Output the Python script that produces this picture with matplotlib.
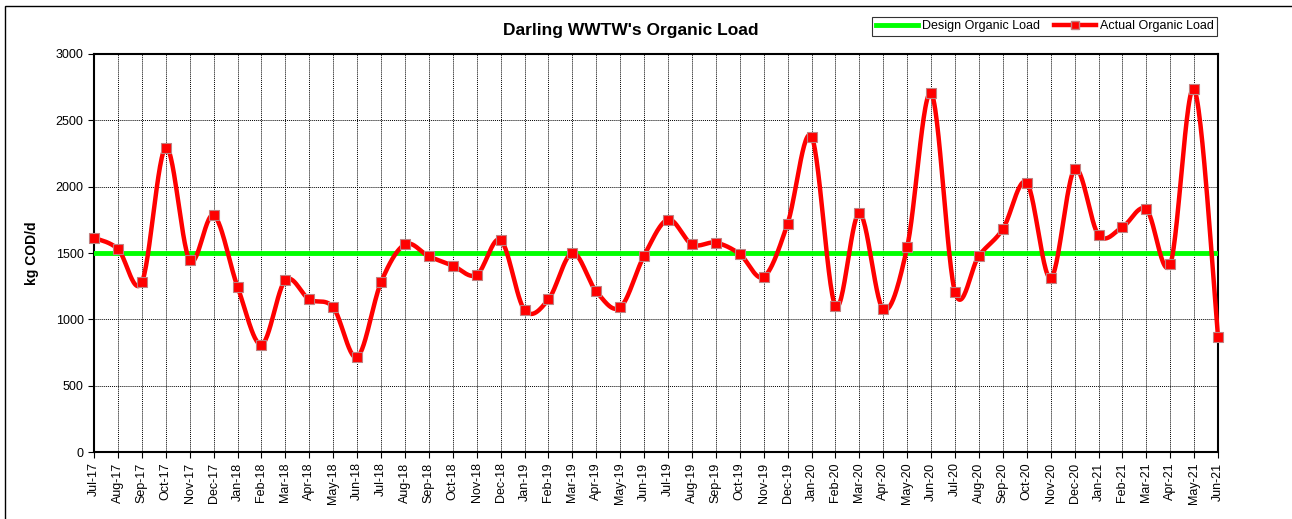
import matplotlib
matplotlib.use("Agg")
import matplotlib.pyplot as plt
import numpy as np
from matplotlib.patches import Rectangle
from matplotlib.lines import Line2D

plt.rcParams['font.family'] = ['Liberation Sans', 'DejaVu Sans']

months = ["Jul-17", "Aug-17", "Sep-17", "Oct-17", "Nov-17", "Dec-17",
          "Jan-18", "Feb-18", "Mar-18", "Apr-18", "May-18", "Jun-18",
          "Jul-18", "Aug-18", "Sep-18", "Oct-18", "Nov-18", "Dec-18",
          "Jan-19", "Feb-19", "Mar-19", "Apr-19", "May-19", "Jun-19",
          "Jul-19", "Aug-19", "Sep-19", "Oct-19", "Nov-19", "Dec-19",
          "Jan-20", "Feb-20", "Mar-20", "Apr-20", "May-20", "Jun-20",
          "Jul-20", "Aug-20", "Sep-20", "Oct-20", "Nov-20", "Dec-20",
          "Jan-21", "Feb-21", "Mar-21", "Apr-21", "May-21", "Jun-21"]
actual_load = [1615, 1530, 1280, 2295, 1445, 1785,
               1245, 810, 1295, 1150, 1090, 715,
               1280, 1565, 1475, 1405, 1335, 1598,
               1070, 1150, 1500, 1210, 1090, 1480,
               1752, 1565, 1578, 1492, 1320, 1722,
               2378, 1100, 1800, 1075, 1545, 2705,
               1205, 1480, 1680, 2030, 1310, 2130,
               1635, 1695, 1830, 1415, 2735, 865]
design_load = [1500] * len(months)

x = np.arange(len(months))


def smooth_curve(xs, ys, n=30):
    xs = np.asarray(xs, float)
    ys = np.asarray(ys, float)
    px = np.concatenate([[xs[0]], xs, [xs[-1]]])
    py = np.concatenate([[ys[0]], ys, [ys[-1]]])
    outx, outy = [], []
    t = np.linspace(0, 1, n)
    for i in range(1, len(px) - 2):
        p0x, p1x, p2x, p3x = px[i - 1], px[i], px[i + 1], px[i + 2]
        p0y, p1y, p2y, p3y = py[i - 1], py[i], py[i + 1], py[i + 2]
        c1x = p1x + (p2x - p0x) / 6
        c1y = p1y + (p2y - p0y) / 6
        c2x = p2x - (p3x - p1x) / 6
        c2y = p2y - (p3y - p1y) / 6
        bx = (1 - t) ** 3 * p1x + 3 * (1 - t) ** 2 * t * c1x + 3 * (1 - t) * t ** 2 * c2x + t ** 3 * p2x
        by = (1 - t) ** 3 * p1y + 3 * (1 - t) ** 2 * t * c1y + 3 * (1 - t) * t ** 2 * c2y + t ** 3 * p2y
        outx.extend(bx)
        outy.extend(by)
    return np.array(outx), np.array(outy)


fig = plt.figure(figsize=(12.92, 5.19), dpi=100)
ax = fig.add_axes([0.0728, 0.129, 0.870, 0.767])

ax.plot(x, design_load, color='#00FF00', lw=3.5, zorder=3)
sx, sy = smooth_curve(x, actual_load)
ax.plot(sx, sy, color='#FF0000', lw=3.2, zorder=4, solid_capstyle='round', clip_on=False)
ax.plot(x, actual_load, ls='none', marker='s', markersize=7.5, clip_on=False,
        markerfacecolor='#FF0000', markeredgecolor='#C08080', markeredgewidth=0.8, zorder=5)

ax.set_xlim(0, len(months) - 1)
ax.set_ylim(0, 3000)
ax.set_yticks(np.arange(0, 3001, 500))
ax.set_xticks(x)
ax.set_xticklabels(months, rotation=90, fontsize=9)
ax.tick_params(axis='y', labelsize=9, length=4)
ax.tick_params(axis='x', length=4)
ax.grid(True, color='black', ls=(0, (1, 1)), lw=0.7)
for s in ax.spines.values():
    s.set_linewidth(1.5)
    s.set_color('black')
ax.set_ylabel("kg COD/d", fontsize=10, fontweight='bold', labelpad=12)

fig.text(0.488, 0.941, "Darling WWTW's Organic Load", ha='center', va='center',
         fontsize=12.5, fontweight='bold')

handles = [Line2D([], [], color='#00FF00', lw=3.5),
           Line2D([], [], color='#FF0000', lw=3.2, marker='s', markersize=6,
                  markerfacecolor='#FF0000', markeredgecolor='#C08080')]
leg = fig.legend(handles, ["Design Organic Load", "Actual Organic Load"],
                 loc='center', bbox_to_anchor=(0.8085, 0.949), ncol=2, fontsize=9,
                 frameon=True, fancybox=False, edgecolor='black', borderpad=0.3,
                 handlelength=3.4, handletextpad=0.3, columnspacing=1.1)
leg.get_frame().set_linewidth(0.8)

fig.patches.append(Rectangle((0.004, -0.01), 1.0, 0.998, transform=fig.transFigure,
                             fill=False, edgecolor='black', lw=1.0))

fig.savefig("out.png", dpi=100)
